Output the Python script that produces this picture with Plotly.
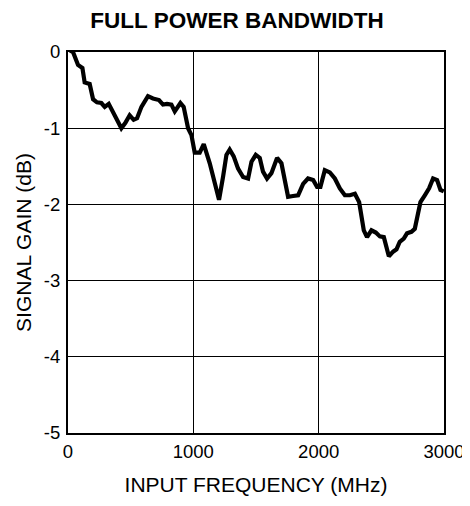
import plotly.graph_objects as go

freq_mhz = [15, 40, 80, 115, 133, 173, 200, 231, 266, 293, 325, 359, 391, 426, 458, 492, 524, 551,
            586, 638, 678, 726, 758, 790, 825, 852, 897, 923, 958, 985, 1011, 1051, 1083, 1131,
            1171, 1205, 1237, 1264, 1290, 1322, 1357, 1397, 1437, 1464, 1498, 1530, 1556, 1588,
            1623, 1668, 1703, 1730, 1756, 1796, 1836, 1876, 1915, 1956, 1987, 2014, 2049, 2089,
            2129, 2169, 2209, 2249, 2289, 2323, 2342, 2360, 2386, 2421, 2456, 2488, 2520, 2541,
            2560, 2594, 2621, 2647, 2679, 2705, 2740, 2767, 2785, 2812, 2847, 2881, 2913, 2945,
            2972, 2998]
gain_db = [0.02, 0.0, -0.17, -0.21, -0.40, -0.42, -0.62, -0.66, -0.67, -0.72, -0.68, -0.78, -0.89,
           -1.0, -0.93, -0.83, -0.89, -0.87, -0.72, -0.58, -0.61, -0.63, -0.69, -0.68, -0.69,
           -0.78, -0.67, -0.72, -1.0, -1.09, -1.32, -1.32, -1.21, -1.46, -1.72, -1.94, -1.64,
           -1.35, -1.28, -1.37, -1.53, -1.64, -1.66, -1.44, -1.35, -1.39, -1.57, -1.66, -1.59,
           -1.39, -1.46, -1.68, -1.90, -1.89, -1.88, -1.73, -1.66, -1.68, -1.77, -1.77, -1.55,
           -1.58, -1.66, -1.79, -1.88, -1.88, -1.86, -1.97, -2.16, -2.34, -2.43, -2.34, -2.37,
           -2.42, -2.43, -2.54, -2.68, -2.62, -2.59, -2.49, -2.45, -2.38, -2.36, -2.32, -2.18,
           -1.97, -1.88, -1.79, -1.66, -1.68, -1.81, -1.83]

x_ticks = [0, 1000, 2000, 3000]
x_labels = ["0", "1000", "2000", "3000"]
y_ticks = [0, -1, -2, -3, -4, -5]
y_labels = ["0", "-1", "-2", "-3", "-4", "-5"]

FONT = "Liberation Sans, Arial, Helvetica, sans-serif"
W, H = 462, 498  # page adds an 8px body margin

fig = go.Figure()
fig.add_trace(go.Scatter(x=freq_mhz, y=gain_db, mode="lines",
                         line=dict(color="black", width=4.2), showlegend=False))

fig.update_layout(
    width=W, height=H,
    margin=dict(l=60, r=26, t=44, b=73),
    paper_bgcolor="white", plot_bgcolor="white",
    font=dict(family=FONT, color="black", size=18),
    title=dict(text="<b>FULL POWER BANDWIDTH</b>", x=229 / W, xanchor="center",
               y=1 - 12 / H, yanchor="middle", font=dict(size=22.5, family=FONT)),
    xaxis=dict(range=[0, 3000], tickvals=x_ticks, ticktext=x_labels,
               showgrid=True, gridcolor="black", gridwidth=1.2,
               showline=True, linecolor="black", linewidth=2, mirror=True,
               ticks="outside", ticklen=1, tickcolor="rgba(0,0,0,0)",
               zeroline=False, automargin=False,
               title=dict(text="INPUT FREQUENCY (MHz)", standoff=16, font=dict(size=21)),
               tickfont=dict(size=18.5)),
    yaxis=dict(range=[-5, 0], tickvals=y_ticks, ticktext=y_labels,
               showgrid=True, gridcolor="black", gridwidth=1.2,
               showline=True, linecolor="black", linewidth=2, mirror=True,
               ticks="outside", ticklen=2, tickcolor="rgba(0,0,0,0)",
               zeroline=False, automargin=False,
               title=dict(text="SIGNAL GAIN (dB)", standoff=6, font=dict(size=21)),
               tickfont=dict(size=18.5)),
)
fig.write_html("out.html")
